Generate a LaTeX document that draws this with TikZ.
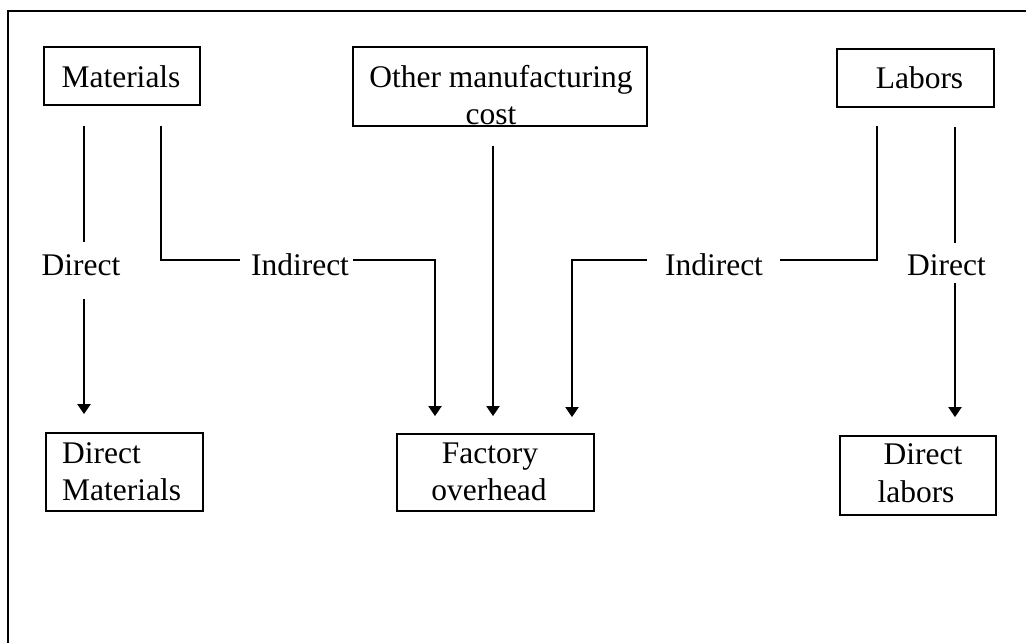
\documentclass[tikz,border=0pt]{standalone}
\usepackage{fontspec}
\setmainfont{Liberation Serif}
\usetikzlibrary{arrows.meta}
\begin{document}
\begin{tikzpicture}[x=1pt,y=-1pt,
  box/.style={draw, line width=1.8pt, inner sep=0pt},
  txt/.style={inner sep=0pt, anchor=base, font=\fontsize{31.5}{37}\selectfont},
  lbl/.style={inner sep=0pt, text height=30pt, text depth=0pt, font=\fontsize{31.5}{37}\selectfont},
  conn/.style={line width=2pt},
  arr/.style={conn, -{Triangle[width=13pt,length=10pt]}}]
\useasboundingbox (0,0) rectangle (1026,643);

% frame
\draw[line width=1.6pt] (1026,11) -- (8,11) -- (8,643);

% source boxes
\node[box, minimum width=156pt, minimum height=58pt] (mat) at (122,76) {};
\node[txt] (matT) at (121,87) {Materials};
\node[box, minimum width=294pt, minimum height=79pt] (oth) at (500,86.5) {};
\node[txt] (othT1) at (501,87) {Other manufacturing};
\node[txt] (othT2) at (491,124) {cost};
\node[box, minimum width=157pt, minimum height=58pt] (lab) at (915.5,78) {};
\node[txt] (labT) at (919.5,88) {Labors};

% result boxes
\node[box, minimum width=157pt, minimum height=78pt] (dm) at (124.5,472) {};
\node[txt, anchor=base west] (dmT1) at (62,463) {Direct};
\node[txt, anchor=base west] (dmT2) at (62,500) {Materials};
\node[box, minimum width=197pt, minimum height=77pt] (fo) at (495.5,472.5) {};
\node[txt] (foT1) at (490,463) {Factory};
\node[txt] (foT2) at (489,500) {overhead};
\node[box, minimum width=156pt, minimum height=79pt] (dl) at (918,475.5) {};
\node[txt] (dlT1) at (923,464) {Direct};
\node[txt] (dlT2) at (916,502) {labors};

% flow labels
\node[lbl] (d1) at (81,260) {Direct};
\node[lbl] (i1) at (300,260) {Indirect};
\node[lbl] (i2) at (714,260) {Indirect};
\node[lbl] (d2) at (946.5,260) {Direct};

% trunk starts below the source boxes
\coordinate (mA) at ([xshift=-38pt,yshift=-20pt]mat.south);
\coordinate (mB) at ([xshift=39pt,yshift=-20pt]mat.south);
\coordinate (lB) at ([xshift=-38.5pt,yshift=-18pt]lab.south);
\coordinate (lA) at ([xshift=39.5pt,yshift=-19pt]lab.south);

% materials
\draw[conn, shorten >=3pt] (mA) -- (mA |- d1.north);
\draw[arr, shorten <=24pt, shorten >=18pt] (mA |- d1.south) -- (mA |- dm.north);
\draw[conn, shorten >=11pt] (mB) |- (i1.west);
\draw[arr, shorten <=4pt, shorten >=17pt] (i1.east) -| ([xshift=-60.5pt]fo.north);

% other manufacturing cost
\draw[arr, shorten <=19pt, shorten >=17pt] ([xshift=-7pt]oth.south) -- ([xshift=-2.5pt]fo.north);

% labors
\draw[conn, shorten >=17pt] (lB) |- (i2.east);
\draw[arr, shorten <=18pt, shorten >=16pt] (i2.west) -| ([xshift=76.5pt]fo.north);
\draw[conn, shorten >=2pt] (lA) -- (lA |- d2.north);
\draw[arr, shorten <=8pt, shorten >=18pt] (lA |- d2.south) -- (lA |- dl.north);
\end{tikzpicture}
\end{document}
